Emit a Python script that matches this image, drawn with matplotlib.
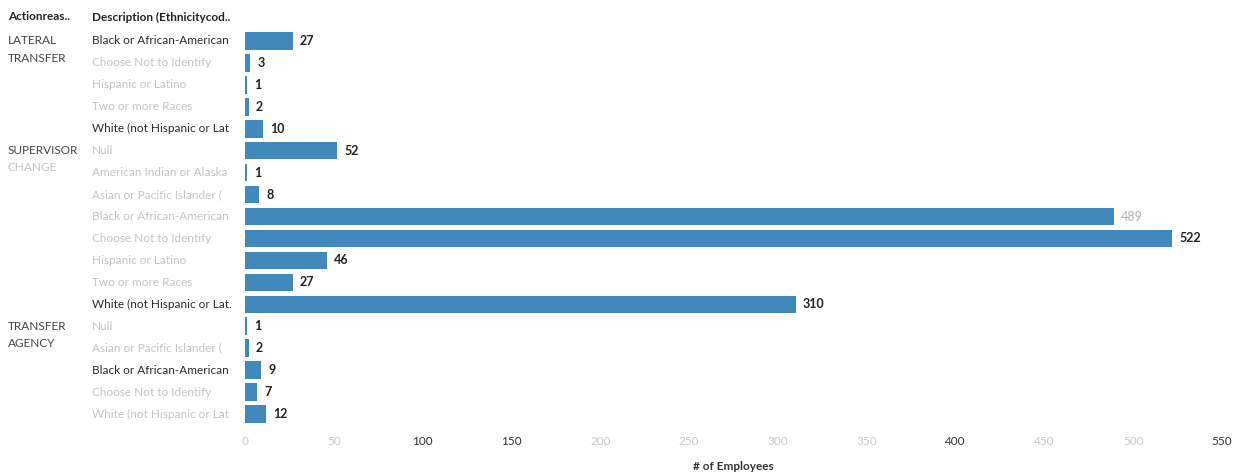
import matplotlib.pyplot as plt
import matplotlib.transforms as mtransforms

# action reason groups and their ethnicity rows
groups = ["LATERAL\nTRANSFER", "SUPERVISOR\nCHANGE", "TRANSFER\nAGENCY"]
lateral = ["Black or African-American", "Choose Not to Identify", "Hispanic or Latino",
           "Two or more Races", "White (not Hispanic or Lat"]
lateral_n = [27, 3, 1, 2, 10]
supervisor = ["Null", "American Indian or Alaska", "Asian or Pacific Islander (",
              "Black or African-American", "Choose Not to Identify", "Hispanic or Latino",
              "Two or more Races", "White (not Hispanic or Lat."]
supervisor_n = [52, 1, 8, 489, 522, 46, 27, 310]
agency = ["Null", "Asian or Pacific Islander (", "Black or African-American",
          "Choose Not to Identify", "White (not Hispanic or Lat"]
agency_n = [1, 2, 9, 7, 12]
ticks = [0, 50, 100, 150, 200, 250, 300, 350, 400, 450, 500, 550]

# scanned print: some labels came out faint
dark_rows = {0, 4, 12, 15}
faint_values = {8}
dark_ticks = {100, 150, 400, 550}

labels = lateral + supervisor + agency
values = lateral_n + supervisor_n + agency_n
starts = [0, len(lateral), len(lateral) + len(supervisor)]

plt.rcParams['font.family'] = ['Lato', 'DejaVu Sans']
fig = plt.figure(figsize=(12.48, 4.76), dpi=100)
ax = fig.add_axes([245 / 1248, 1 - 425 / 476, 977 / 1248, 395 / 476])

bar_color = "#4189bd"
ypos = list(range(len(values)))
ax.barh(ypos, values, height=0.8, color=bar_color)
for y, v in zip(ypos, values):
    ax.text(v + 4, y, str(v), va="center", ha="left", fontsize=9,
            fontweight="normal" if y in faint_values else "bold",
            color="#b0b0b0" if y in faint_values else "#222222")

ax.set_ylim(len(values) - 0.5, -0.5)
ax.set_xlim(0, 550)
ax.set_xticks(ticks)
ax.set_xticklabels([str(t) for t in ticks], fontsize=8.5)
for t, lab in zip(ticks, ax.get_xticklabels()):
    lab.set_color("#333333" if t in dark_ticks else "#c8c8c8")
ax.tick_params(axis="x", length=0, pad=8)
ax.set_yticks([])
for s in ax.spines.values():
    s.set_visible(False)
ax.set_xlabel("# of Employees", fontsize=8.5, fontweight="bold", color="#333333",
              labelpad=10)

trans = mtransforms.blended_transform_factory(fig.transFigure, ax.transData)
for y, lab in enumerate(labels):
    ax.text(92 / 1248, y, lab, transform=trans, va="center", ha="left", fontsize=8.5,
            color="#2a2a2a" if y in dark_rows else "#c4c4c4", clip_on=False)

for g, s in zip(groups, starts):
    top, bottom = g.split("\n")
    ax.text(8 / 1248, s, top, transform=trans, va="center", ha="left", fontsize=8.5,
            color="#444444", clip_on=False)
    ax.text(8 / 1248, s + 0.78, bottom, transform=trans, va="center", ha="left",
            fontsize=8.5, color="#c4c4c4" if bottom == "CHANGE" else "#444444",
            clip_on=False)

fig.text(8 / 1248, 1 - 17 / 476, "Actionreas..", fontsize=8.5, fontweight="bold",
         color="#222222", va="center")
fig.text(92 / 1248, 1 - 17 / 476, "Description (Ethnicitycod..", fontsize=8.5,
         fontweight="bold", color="#222222", va="center")

fig.savefig("out.png", dpi=100, facecolor="white")
